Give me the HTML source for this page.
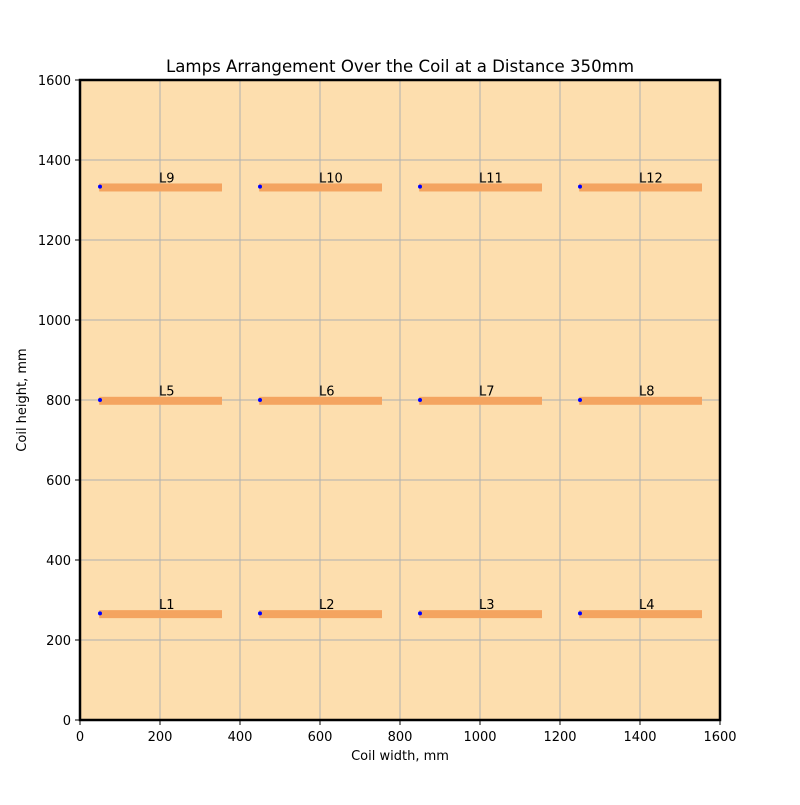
<!DOCTYPE html>
<html><head><meta charset="utf-8"><style>
body{margin:0;background:#fff;font-family:"Liberation Sans","DejaVu Sans",sans-serif}
svg text{font-family:"DejaVu Sans","Liberation Sans",sans-serif}
</style></head><body>
<svg id="chart" width="800" height="800" viewBox="0 0 800 800" xmlns="http://www.w3.org/2000/svg">
<rect width="800" height="800" fill="#fff"/>
<text x="400" y="72" text-anchor="middle" font-size="16.6">Lamps Arrangement Over the Coil at a Distance 350mm</text>
<rect x="80" y="80" width="640" height="640" fill="#fddeae"/>
<g id="grid"></g>
<g id="marks"></g>
<rect x="80" y="80" width="640" height="640" fill="none" stroke="#000" stroke-width="2.5"/>
<g id="axes"></g>
<text x="400" y="760" text-anchor="middle" font-size="13">Coil width, mm</text>
<text transform="translate(26,400) rotate(-90)" text-anchor="middle" font-size="13">Coil height, mm</text>
</svg>
<script>
const xTicks=[0,200,400,600,800,1000,1200,1400,1600];
const yTicks=[0,200,400,600,800,1000,1200,1400,1600];
const lampNames=["L1","L2","L3","L4","L5","L6","L7","L8","L9","L10","L11","L12"];
const lampX=[50,450,850,1250,50,450,850,1250,50,450,850,1250];
const lampY=[266.67,266.67,266.67,266.67,800,800,800,800,1333.33,1333.33,1333.33,1333.33];
const lampLength=[305,305,305,305,305,305,305,305,305,305,305,305];
const NS="http://www.w3.org/2000/svg";
const sx=v=>80+v*640/1600, sy=v=>720-v*640/1600;
function mk(t,a,p){const e=document.createElementNS(NS,t);for(const k in a)e.setAttribute(k,a[k]);p.appendChild(e);return e;}
const grid=document.getElementById('grid'),axes=document.getElementById('axes'),marks=document.getElementById('marks');
xTicks.forEach(v=>{
 const g=mk('line',{x1:sx(v),x2:sx(v),y1:80,y2:720,stroke:'#b0b0b0','stroke-width':1},grid);
 
 
 const t=mk('line',{x1:sx(v),x2:sx(v),y1:720,y2:725,stroke:'#000','stroke-width':1},axes);
 
 
 const l=mk('text',{x:sx(v),y:741,'text-anchor':'middle','font-size':13},axes);l.textContent=v;
 
 
});
yTicks.forEach(v=>{
 const g=mk('line',{x1:80,x2:720,y1:sy(v),y2:sy(v),stroke:'#b0b0b0','stroke-width':1},grid);
 
 
 const t=mk('line',{x1:75,x2:80,y1:sy(v),y2:sy(v),stroke:'#000','stroke-width':1},axes);
 
 
 const l=mk('text',{x:71,y:sy(v)+5,'text-anchor':'end','font-size':13},axes);l.textContent=v;
 
 
});
lampNames.forEach((n,i)=>{
 const x=lampX[i],y=lampY[i];
 const r=mk('rect',{x:sx(x-2),y:sy(y+8),width:sx(x+lampLength[i])-sx(x-2),height:sy(y-12)-sy(y+8),fill:'#f4a460'},marks);
 
 
 const d=mk('circle',{cx:sx(x),cy:sy(y),r:2,fill:'#0000ff'},marks);
 
 
 const t=mk('text',{x:sx(x+150)-1,y:sy(y+11),'font-size':13},marks);t.textContent=n;
 
 
});
</script>
</body></html>
